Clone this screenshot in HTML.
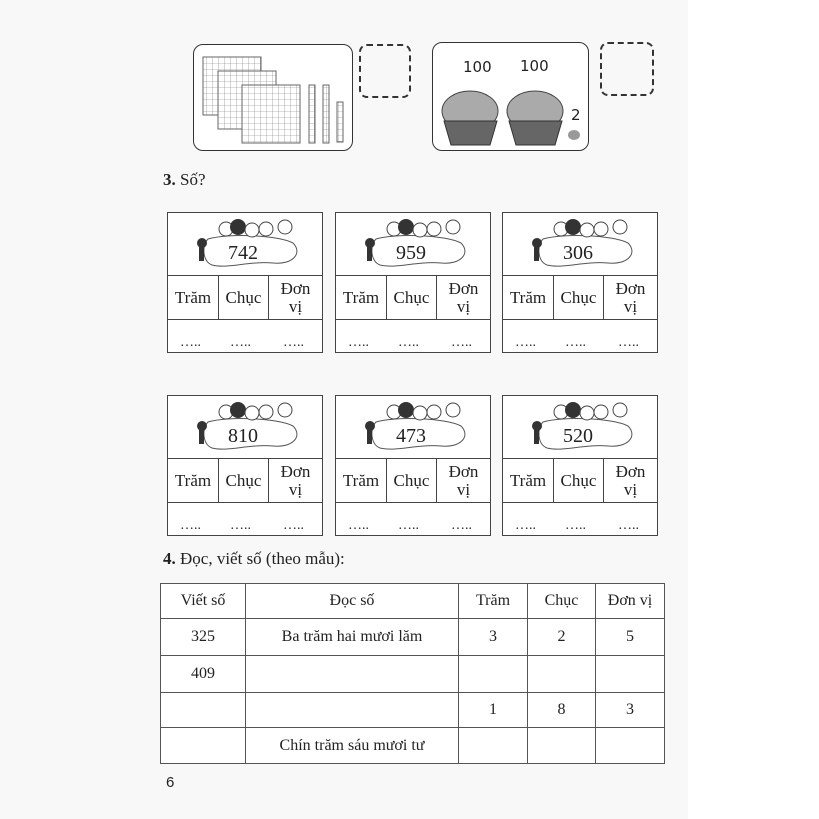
<!DOCTYPE html>
<html><head><meta charset="utf-8"><style>
body{margin:0;width:819px;height:819px;position:relative;background:#fff;font-family:"Liberation Serif",serif;color:#222;overflow:hidden}
.pg{position:absolute;left:0;top:0;width:688px;height:819px;background:#f8f8f8}
.a{position:absolute}
.box{position:absolute;border:1.5px solid #333;border-radius:10px;background:#fff}
.dash{position:absolute;border:2px dashed #333;border-radius:8px}
.card{position:absolute;width:154px;height:139px;border:1.3px solid #444;background:#fff;box-sizing:content-box}
.card .hd{position:absolute;left:0;top:0;width:154px;height:62px;border-bottom:1.3px solid #444}
.card .n{position:absolute;left:60px;top:29px;font-size:20px}
.card .c{position:absolute;top:63px;height:43px;border-right:1.3px solid #444;font-size:17px;text-align:center;line-height:18px;display:flex;align-items:center;justify-content:center}
.card .d{position:absolute;top:106px;height:33px;width:154px;border-top:1.3px solid #444}
.card .d span{position:absolute;bottom:2px;font-size:14px}
table{position:absolute;left:160px;top:583px;border-collapse:collapse;font-size:16px;background:#fff;table-layout:fixed;width:504px}
td{border:1.3px solid #555;text-align:center;padding:0}
</style></head><body>
<div class="pg"></div>
<div class="box" style="left:193px;top:44px;width:158px;height:105px">
<svg width="158" height="105" style="position:absolute;left:0;top:0">
<defs><pattern id="g" width="6" height="6" patternUnits="userSpaceOnUse"><path d="M6 0H0V6" fill="none" stroke="#777" stroke-width="0.6"/></pattern></defs>
<rect x="9" y="12" width="58" height="58" fill="url(#g)" stroke="#666"/>
<rect x="24" y="26" width="58" height="58" fill="#fff"/><rect x="24" y="26" width="58" height="58" fill="url(#g)" stroke="#666"/>
<rect x="48" y="40" width="58" height="58" fill="#fff"/><rect x="48" y="40" width="58" height="58" fill="url(#g)" stroke="#666"/>
<rect x="115" y="40" width="6" height="58" fill="url(#g)" stroke="#666"/>
<rect x="129" y="40" width="6" height="58" fill="url(#g)" stroke="#666"/>
<rect x="143" y="57" width="6" height="40" fill="url(#g)" stroke="#666"/>
</svg></div>
<div class="dash" style="left:359px;top:44px;width:48px;height:50px"></div>
<div class="box" style="left:432px;top:42px;width:155px;height:107px">
<div class="a" style="left:30px;top:15px;font:15px 'DejaVu Sans',sans-serif">100</div>
<div class="a" style="left:87px;top:14px;font:15px 'DejaVu Sans',sans-serif">100</div>
<div class="a" style="left:138px;top:63px;font:15px 'DejaVu Sans',sans-serif">2</div>
<svg width="155" height="107" style="position:absolute;left:0;top:0">
<ellipse cx="37" cy="68" rx="28" ry="20" fill="#aaa" stroke="#444"/>
<path d="M11 78h53l-7 24h-39z" fill="#666" stroke="#333"/>
<ellipse cx="102" cy="68" rx="28" ry="20" fill="#aaa" stroke="#444"/>
<path d="M76 78h53l-7 24h-39z" fill="#666" stroke="#333"/>
<ellipse cx="141" cy="92" rx="6" ry="5" fill="#999"/>
</svg></div>
<div class="dash" style="left:600px;top:42px;width:50px;height:50px"></div>
<div class="a" style="left:163px;top:170px;font-size:17px"><b>3.</b> Số?</div>

<svg width="0" height="0" style="position:absolute"><defs><g id="kids">
<path d="M40 26 C60 20 110 22 125 30 C135 40 125 52 105 50 C80 48 60 56 44 52 C34 48 34 32 40 26Z" fill="none" stroke="#555" stroke-width="1"/>
<circle cx="58" cy="16" r="7" fill="#fff" stroke="#444"/><circle cx="70" cy="14" r="8" fill="#333"/>
<circle cx="84" cy="17" r="7" fill="#fff" stroke="#444"/><circle cx="98" cy="16" r="7" fill="#fff" stroke="#444"/>
<circle cx="117" cy="14" r="7" fill="#fff" stroke="#444"/><circle cx="34" cy="30" r="5" fill="#333"/><rect x="31" y="34" width="5" height="14" fill="#333"/>
</g></defs></svg>

<div class="card" style="left:167px;top:212px"><div class="hd"><svg width="154" height="62"><use href="#kids"/></svg><span class="n">742</span></div>
<div class="c" style="left:0;width:50px">Trăm</div><div class="c" style="left:51px;width:49px">Chục</div><div class="c" style="left:101px;width:53px;border:0">Đơn<br>vị</div>
<div class="d"><span style="left:12px">…..</span><span style="left:62px">…..</span><span style="left:115px">…..</span></div></div>
<div class="card" style="left:335px;top:212px"><div class="hd"><svg width="154" height="62"><use href="#kids"/></svg><span class="n">959</span></div>
<div class="c" style="left:0;width:50px">Trăm</div><div class="c" style="left:51px;width:49px">Chục</div><div class="c" style="left:101px;width:53px;border:0">Đơn<br>vị</div>
<div class="d"><span style="left:12px">…..</span><span style="left:62px">…..</span><span style="left:115px">…..</span></div></div>
<div class="card" style="left:502px;top:212px"><div class="hd"><svg width="154" height="62"><use href="#kids"/></svg><span class="n">306</span></div>
<div class="c" style="left:0;width:50px">Trăm</div><div class="c" style="left:51px;width:49px">Chục</div><div class="c" style="left:101px;width:53px;border:0">Đơn<br>vị</div>
<div class="d"><span style="left:12px">…..</span><span style="left:62px">…..</span><span style="left:115px">…..</span></div></div>

<div class="card" style="left:167px;top:395px"><div class="hd"><svg width="154" height="62"><use href="#kids"/></svg><span class="n">810</span></div>
<div class="c" style="left:0;width:50px">Trăm</div><div class="c" style="left:51px;width:49px">Chục</div><div class="c" style="left:101px;width:53px;border:0">Đơn<br>vị</div>
<div class="d"><span style="left:12px">…..</span><span style="left:62px">…..</span><span style="left:115px">…..</span></div></div>
<div class="card" style="left:335px;top:395px"><div class="hd"><svg width="154" height="62"><use href="#kids"/></svg><span class="n">473</span></div>
<div class="c" style="left:0;width:50px">Trăm</div><div class="c" style="left:51px;width:49px">Chục</div><div class="c" style="left:101px;width:53px;border:0">Đơn<br>vị</div>
<div class="d"><span style="left:12px">…..</span><span style="left:62px">…..</span><span style="left:115px">…..</span></div></div>
<div class="card" style="left:502px;top:395px"><div class="hd"><svg width="154" height="62"><use href="#kids"/></svg><span class="n">520</span></div>
<div class="c" style="left:0;width:50px">Trăm</div><div class="c" style="left:51px;width:49px">Chục</div><div class="c" style="left:101px;width:53px;border:0">Đơn<br>vị</div>
<div class="d"><span style="left:12px">…..</span><span style="left:62px">…..</span><span style="left:115px">…..</span></div></div>

<div class="a" style="left:163px;top:549px;font-size:17px"><b>4.</b> Đọc, viết số (theo mẫu):</div>
<table>
<colgroup><col style="width:85px"><col style="width:213px"><col style="width:69px"><col style="width:68px"><col style="width:69px"></colgroup>
<tr style="height:35px"><td>Viết số</td><td>Đọc số</td><td>Trăm</td><td>Chục</td><td>Đơn vị</td></tr>
<tr style="height:37px"><td>325</td><td>Ba trăm hai mươi lăm</td><td>3</td><td>2</td><td>5</td></tr>
<tr style="height:37px"><td>409</td><td></td><td></td><td></td><td></td></tr>
<tr style="height:35px"><td></td><td></td><td>1</td><td>8</td><td>3</td></tr>
<tr style="height:36px"><td></td><td>Chín trăm sáu mươi tư</td><td></td><td></td><td></td></tr>
</table>
<div class="a" style="left:166px;top:774px;font:15px 'Liberation Sans',sans-serif">6</div>
</body></html>
